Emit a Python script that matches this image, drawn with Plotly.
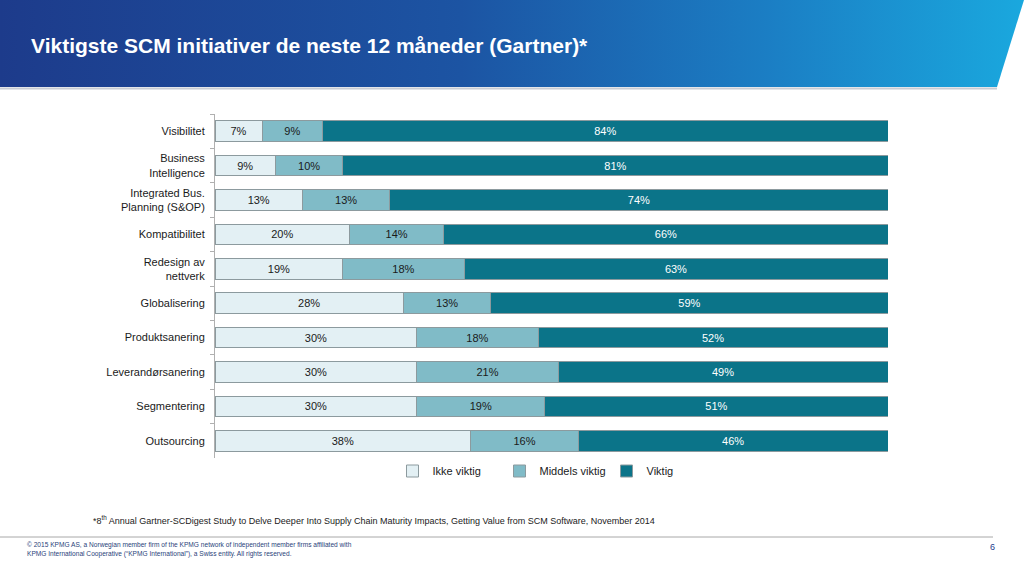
import plotly.graph_objects as go

W, H = 1024, 576

categories = ["Visibilitet", "Business<br>Intelligence", "Integrated Bus.<br>Planning (S&OP)",
              "Kompatibilitet", "Redesign av<br>nettverk", "Globalisering", "Produktsanering",
              "Leverandørsanering", "Segmentering", "Outsourcing"]
ikke_viktig = [7, 9, 13, 20, 19, 28, 30, 30, 30, 38]
middels_viktig = [9, 10, 13, 14, 18, 13, 18, 21, 19, 16]
viktig = [84, 81, 74, 66, 63, 59, 52, 49, 51, 46]
series_names = ["Ikke viktig", "Middels viktig", "Viktig"]

colors = ["#e3f0f4", "#80bbc7", "#0b7489"]
text_colors = ["#1a1a1a", "#1a1a1a", "#ffffff"]

fig = go.Figure()
for name, vals, col, tc in zip(series_names, [ikke_viktig, middels_viktig, viktig], colors, text_colors):
    fig.add_trace(go.Bar(
        y=categories, x=vals, name=name, orientation="h",
        marker=dict(color=col, line=dict(color="#8c9a9e", width=1)),
        text=[f"{v}%" for v in vals], textposition="inside", insidetextanchor="middle",
        textfont=dict(color=tc, size=11, family="Liberation Sans, Arial"),
        hoverinfo="skip", cliponaxis=False,
    ))

# header gradient polygon on a full-page canvas axis
fig.add_trace(go.Scatter(
    x=[0, 1024, 997, 0, 0], y=[0, 0, 87, 87, 0], mode="lines", fill="toself",
    line=dict(width=0),
    fillgradient=dict(type="horizontal",
                      colorscale=[[0, "#1d3b8b"], [0.45, "#1c54a3"], [0.75, "#1b7ec4"], [1, "#1aa8de"]]),
    xaxis="x2", yaxis="y2", showlegend=False, hoverinfo="skip",
))

x0, x1 = 215, 888
y_top, y_bot = 114, 458

fig.update_layout(
    width=W, height=H,
    margin=dict(l=0, r=0, t=0, b=0),
    paper_bgcolor="white", plot_bgcolor="rgba(0,0,0,0)",
    barmode="stack", bargap=0.4,
    font=dict(family="Liberation Sans, Arial", size=11, color="#1a1a1a"),
    xaxis=dict(domain=[x0 / W, x1 / W], range=[0, 100], visible=False, fixedrange=True),
    yaxis=dict(domain=[(H - y_bot) / H, (H - y_top) / H], autorange="reversed",
               showline=True, linecolor="#b0b0b0", linewidth=1,
               ticks="outside", tickson="boundaries", ticklen=4, tickcolor="#b0b0b0",
               ticklabelstandoff=7,
               tickfont=dict(size=11, color="#1a1a1a"), automargin=False, showgrid=False),
    xaxis2=dict(domain=[0, 1], range=[0, W], visible=False, anchor="y2", fixedrange=True),
    yaxis2=dict(domain=[0, 1], range=[H, 0], visible=False, anchor="x2", fixedrange=True),
    legend=dict(orientation="h", x=553 / W, y=1 - 471 / H, xanchor="center", yanchor="middle",
                font=dict(size=11), itemwidth=30, entrywidth=62, entrywidthmode="pixels",
                traceorder="normal", bgcolor="rgba(0,0,0,0)"),
    showlegend=True,
)

fig.add_annotation(text="<b>Viktigste SCM initiativer de neste 12 måneder (Gartner)*</b>",
                   xref="paper", yref="paper", x=29 / W, y=1 - 45 / H, xanchor="left", yanchor="middle",
                   showarrow=False, font=dict(size=21, color="white", family="Liberation Sans, Arial"))

shapes = [
    dict(type="line", xref="paper", yref="paper", x0=0, x1=997 / W, y0=1 - 88.5 / H, y1=1 - 88.5 / H,
         line=dict(color="#c8ccd4", width=2)),
    dict(type="line", xref="paper", yref="paper", x0=0, x1=993 / W, y0=1 - 537 / H, y1=1 - 537 / H,
         line=dict(color="#a8a8a8", width=1)),
]
fig.update_layout(shapes=shapes)

fig.add_annotation(text="*8<sup>th</sup> Annual Gartner-SCDigest Study to Delve Deeper Into Supply Chain Maturity Impacts, Getting Value from SCM Software, November 2014",
                   xref="paper", yref="paper", x=91 / W, y=1 - 520 / H, xanchor="left", yanchor="middle",
                   showarrow=False, font=dict(size=9, color="#222222"))
fig.add_annotation(text="© 2015 KPMG AS, a Norwegian member firm of the KPMG network of independent member firms affiliated with<br>KPMG International Cooperative (\u201cKPMG International\u201d), a Swiss entity. All rights reserved.",
                   xref="paper", yref="paper", x=25 / W, y=1 - 549.5 / H, xanchor="left", yanchor="middle",
                   align="left", showarrow=False, font=dict(size=6.6, color="#2a3f7a"))
fig.add_annotation(text="6", xref="paper", yref="paper", x=992 / W, y=1 - 547 / H,
                   xanchor="center", yanchor="middle", showarrow=False,
                   font=dict(size=9, color="#1e3c8c"))

fig.write_html("out.html", config={"displayModeBar": False},
               post_script="document.body.style.margin='0';document.body.style.overflow='hidden';")
